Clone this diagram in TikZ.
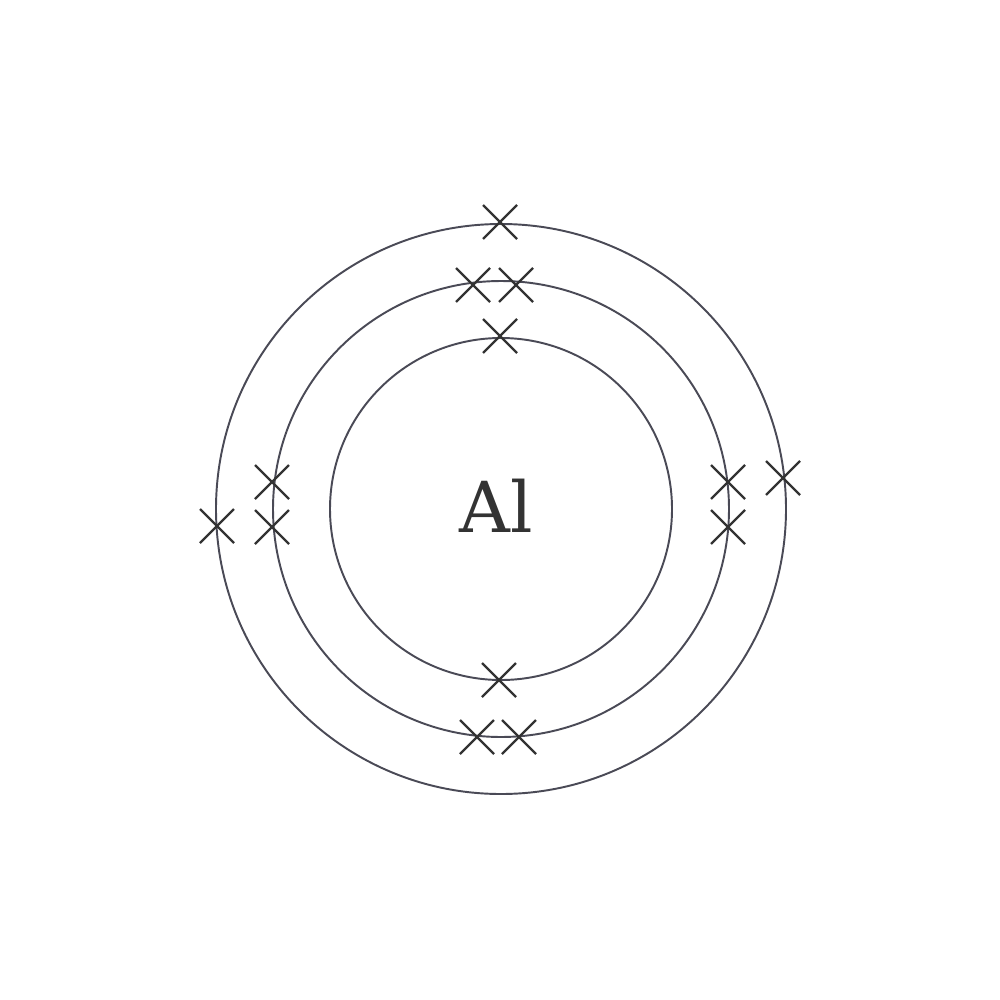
\documentclass[tikz,border=0pt]{standalone}
\usepackage{fontspec}
\setmainfont{DejaVu Serif}
\definecolor{shellgray}{HTML}{4A4A56}
\definecolor{textgray}{HTML}{333333}
\tikzset{
  shell/.style={draw=shellgray, line width=0.55pt},
  electron/.style={draw=textgray, line width=0.65pt},
}
\begin{document}
\begin{tikzpicture}[x=0.01cm,y=-0.01cm]
\useasboundingbox (0,0) rectangle (1000,1000);

% Nucleus
\coordinate (O) at (501,509);
\node[text=textgray, font=\fontsize{20}{24}\selectfont, anchor=base] (al) at (496,532) {Al};

% Shells
\draw[shell] (O) circle (171);
\draw[shell] (O) circle (228);
\draw[shell] (O) circle (285);

% Electrons as crosses
\foreach \x/\y in {500/336, 499/680,
                   473/285, 516/285, 477/737, 519/737,
                   272/482, 272/527, 728/482, 728/527,
                   500/222, 217/526, 783/478}
  \draw[electron] (\x-17,\y-17) -- (\x+17,\y+17)
                  (\x-17,\y+17) -- (\x+17,\y-17);
\end{tikzpicture}
\end{document}
